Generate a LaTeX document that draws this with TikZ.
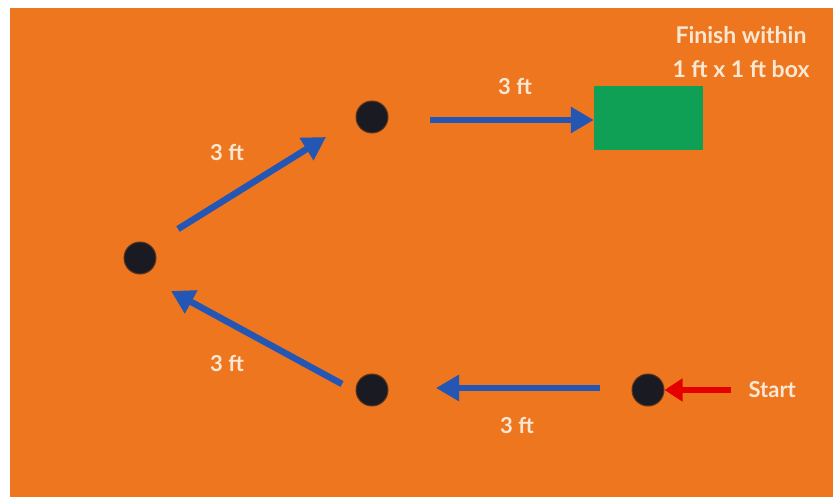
\documentclass[tikz,border=0pt]{standalone}
\usepackage{fontspec}
\setmainfont{Lato}
\usetikzlibrary{arrows.meta}
\definecolor{bg}{HTML}{EE761E}
\definecolor{arrowblue}{HTML}{2456B4}
\definecolor{boxgreen}{HTML}{10A055}
\definecolor{dotc}{HTML}{1A1A22}
\definecolor{txt}{HTML}{FBE8D4}
\begin{document}
\begin{tikzpicture}[x=1pt,y=-1pt,
  dot/.style={circle,fill=dotc,draw=dotc!70!bg,line width=1pt,minimum size=32pt,inner sep=0pt},
  lbl/.style={text=txt,font=\bfseries\fontsize{22}{24}\selectfont},
  bluearrow/.style={draw=arrowblue,line width=6.5pt,-{Triangle[length=23pt,width=25pt]}},
  redarrow/.style={draw=red!90!black,line width=6pt,-{Triangle[length=18pt,width=22pt]}}]
\useasboundingbox (0,0) rectangle (833,497);
\fill[white] (0,0) rectangle (833,497);
\fill[bg] (10,8) rectangle (833,497);
\node[dot] (d1) at (648,390) {};
\node[dot] (d2) at (372,390) {};
\node[dot] (d3) at (140,258) {};
\node[dot] (d4) at (372,117) {};
\node[fill=boxgreen,minimum width=109pt,minimum height=64pt,inner sep=0pt] (box) at (648.5,118) {};
\coordinate (a1s) at (600,388); \coordinate (a1e) at (436,388);
\coordinate (a2s) at (342,384); \coordinate (a2e) at (171,291);
\coordinate (a3s) at (178,229); \coordinate (a3e) at (326,137);
\coordinate (a4s) at (430,120);
\coordinate (rs) at (731,390);
\draw[bluearrow] (a1s) -- (a1e);
\draw[bluearrow] (a2s) -- (a2e);
\draw[bluearrow] (a3s) -- (a3e);
\draw[bluearrow] (a4s) -- (box.west |- a4s);
\draw[redarrow] (rs) -- (d1.east);
\node[lbl] (l1) at (517,425) {3 ft};
\node[lbl] (l2) at (227,363) {3 ft};
\node[lbl] (l3) at (227,152) {3 ft};
\node[lbl] (l4) at (515,86) {3 ft};
\node[lbl,anchor=west] (st) at (745,390) {Start};
\node[lbl,align=center,font=\bfseries\fontsize{23}{34}\selectfont] (fin) at (741,52) {Finish within\\1 ft x 1 ft box};
\end{tikzpicture}
\end{document}
